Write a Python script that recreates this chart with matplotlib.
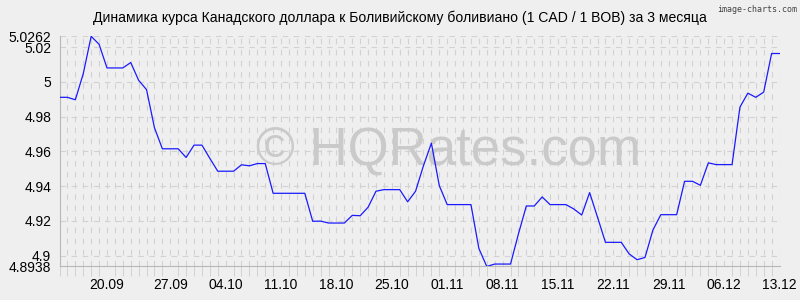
import matplotlib
matplotlib.use('Agg')
import matplotlib.pyplot as plt
from matplotlib.ticker import MultipleLocator
import numpy as np

title = "Динамика курса Канадского доллара к Боливийскому боливиано (1 CAD / 1 BOB) за 3 месяца"

# daily CAD/BOB rate, 14.09 .. 14.12
rates = [4.9911, 4.9911, 4.9897, 5.0047, 5.0262, 5.0216, 5.0080, 5.0080, 5.0080, 5.0111,
         5.0009, 4.9955, 4.9736, 4.9615, 4.9615, 4.9615, 4.9565, 4.9636, 4.9636, 4.9560,
         4.9486, 4.9486, 4.9486, 4.9523, 4.9517, 4.9530, 4.9530, 4.9359, 4.9359, 4.9359,
         4.9359, 4.9359, 4.9198, 4.9199, 4.9188, 4.9188, 4.9188, 4.9232, 4.9230, 4.9279,
         4.9371, 4.9380, 4.9380, 4.9380, 4.9310, 4.9371, 4.9518, 4.9647, 4.9403, 4.9294,
         4.9294, 4.9294, 4.9294, 4.9042, 4.8938, 4.8952, 4.8952, 4.8952, 4.9125, 4.9286,
         4.9286, 4.9338, 4.9294, 4.9294, 4.9294, 4.9269, 4.9234, 4.9363, 4.9221, 4.9077,
         4.9077, 4.9077, 4.9010, 4.8977, 4.8990, 4.9148, 4.9236, 4.9236, 4.9236, 4.9428,
         4.9428, 4.9405, 4.9534, 4.9524, 4.9524, 4.9524, 4.9855, 4.9935, 4.9911, 4.9941,
         5.0163, 5.0163]

date_labels = ['20.09', '27.09', '04.10', '11.10', '18.10', '25.10', '01.11',
               '08.11', '15.11', '22.11', '29.11', '06.12', '13.12']
label_days = [6, 14, 21, 28, 35, 42, 49, 56, 63, 70, 77, 84, 91]

yticks = [4.8938, 4.9, 4.92, 4.94, 4.96, 4.98, 5.0, 5.02, 5.0262]
ytick_labels = ['4.8938', '4.9', '4.92', '4.94', '4.96', '4.98', '5', '5.02', '5.0262']

plt.rcParams['font.family'] = ['Liberation Sans', 'DejaVu Sans']

bg = '#efefef'
gridc = '#d2d2d2'

fig = plt.figure(figsize=(8, 3), dpi=100, facecolor=bg)
ax = fig.add_axes([0.0744, 0.1117, 0.9, 0.7673])
ax.set_facecolor(bg)

days = np.arange(len(rates))
ax.plot(days, rates, color='#1a1aff', lw=0.9, zorder=3)

ax.set_xlim(0, len(rates) - 1)
ax.set_ylim(yticks[0], yticks[-1])

ax.set_yticks(yticks, labels=ytick_labels)
ax.set_xticks(label_days, labels=date_labels)
ax.xaxis.set_minor_locator(MultipleLocator(1))

ax.tick_params(axis='y', length=0, pad=6, labelsize=10)
ax.tick_params(axis='x', which='major', length=0, pad=8, labelsize=10)
ax.tick_params(axis='x', which='minor', length=7, width=0.7, color=gridc)

ax.grid(axis='x', which='both', color=gridc, lw=0.8, dashes=(5, 5))
ax.grid(axis='y', which='major', color=gridc, lw=0.8, dashes=(5, 5))
ax.set_axisbelow(True)

for s in ['top', 'right']:
    ax.spines[s].set_visible(False)
for s in ['left', 'bottom']:
    ax.spines[s].set_color('#b8b8b8')
    ax.spines[s].set_linewidth(0.8)

ax.text(0.54, 0.506, '© HQRates.com', transform=ax.transAxes, fontsize=38,
        color='#cacaca', ha='center', va='center', zorder=1)

fig.text(0.5, 1 - 18 / 300, title, ha='center', va='center', fontsize=10.1)
fig.text(0.997, 1 - 9 / 300, 'image-charts.com', ha='right', va='center',
         fontsize=6, color='#444444', family='DejaVu Sans Mono')

fig.savefig('out.png', dpi=100, facecolor=bg)
